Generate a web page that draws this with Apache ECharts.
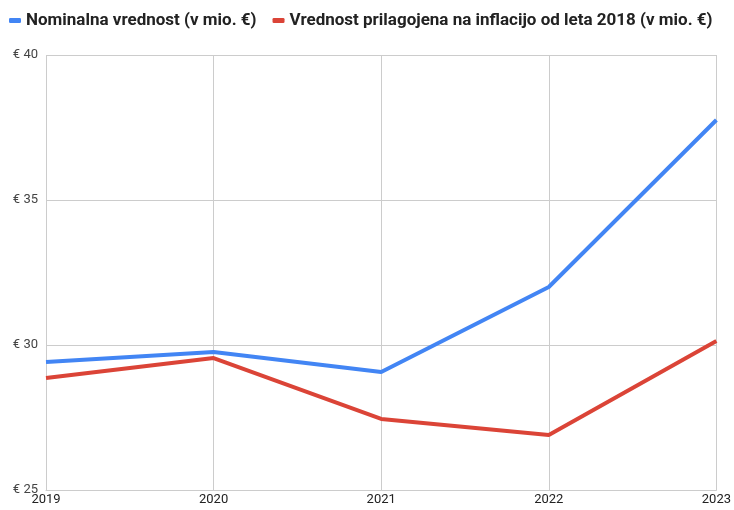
<!DOCTYPE html>
<html>
<head>
<meta charset="utf-8">
<script src="https://cdn.jsdelivr.net/npm/echarts@6/dist/echarts.min.js"></script>
<style>
  html, body { margin: 0; padding: 0; background: #fff; }
  #chart { width: 734px; height: 510px; }
</style>
</head>
<body>
<div id="chart"></div>
<script>
// data
const years = ['2019', '2020', '2021', '2022', '2023'];
const nominal = [29.41, 29.76, 29.07, 32.0, 37.76];
const adjusted = [28.86, 29.55, 27.45, 26.9, 30.14];
const nominalName = 'Nominalna vrednost (v mio. €)';
const adjustedName = 'Vrednost prilagojena na inflacijo od leta 2018 (v mio. €)';

const chart = echarts.init(document.getElementById('chart'));
chart.setOption({
  animation: false,
  textStyle: { fontFamily: 'Roboto, Arial, sans-serif' },
  legend: {
    top: 7,
    left: 4,
    itemWidth: 12,
    itemHeight: 5,
    itemGap: 16,
    icon: 'roundRect',
    textStyle: { fontSize: 17, fontWeight: 'bold', color: '#222' },
    data: [nominalName, adjustedName]
  },
  grid: { left: 46, right: 16, top: 55, bottom: 20 },
  xAxis: {
    type: 'category',
    data: years,
    boundaryGap: false,
    axisTick: { show: false },
    axisLine: { lineStyle: { color: '#ccc' } },
    axisLabel: { color: '#222', fontSize: 13, margin: 3 },
    splitLine: { show: true, lineStyle: { color: '#ccc' } }
  },
  yAxis: {
    type: 'value',
    min: 25,
    max: 40,
    interval: 5,
    axisLine: { show: false },
    axisTick: { show: false },
    axisLabel: { color: '#444', fontSize: 13, margin: 8, formatter: v => '€ ' + v },
    splitLine: { lineStyle: { color: '#ccc' } }
  },
  series: [
    {
      name: nominalName,
      type: 'line',
      data: nominal,
      symbol: 'none',
      color: '#4285f4',
      lineStyle: { width: 4 }
    },
    {
      name: adjustedName,
      type: 'line',
      data: adjusted,
      symbol: 'none',
      color: '#db4437',
      lineStyle: { width: 4 }
    }
  ]
});
</script>
</body>
</html>
